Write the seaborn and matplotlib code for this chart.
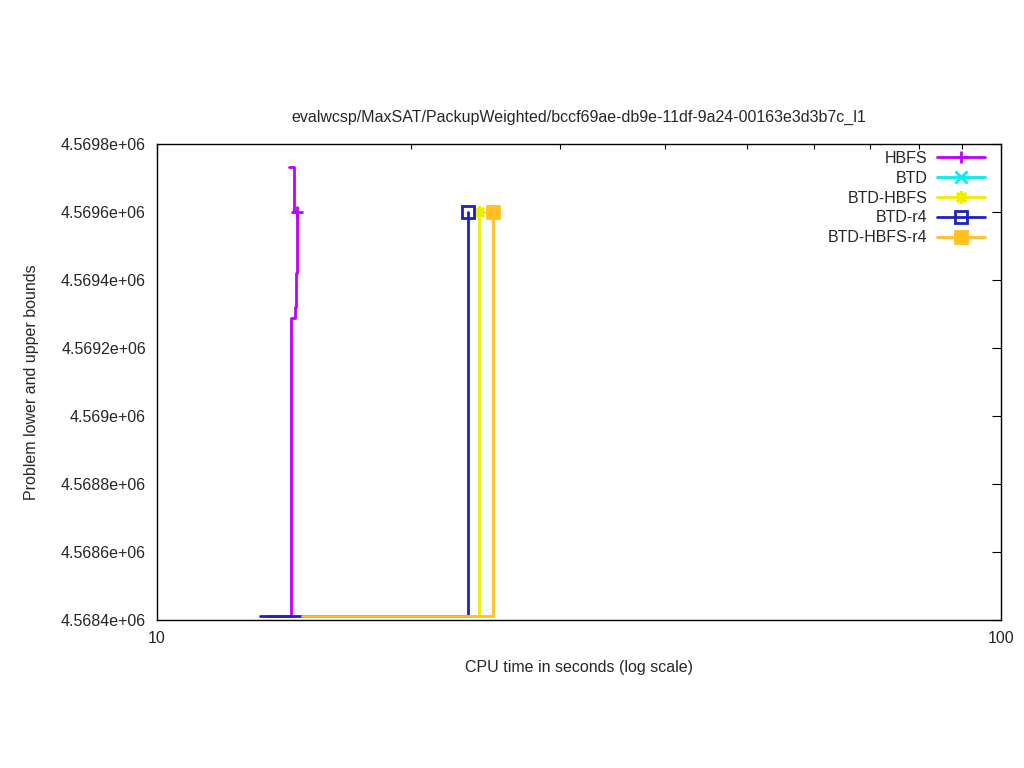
import numpy as np
import pandas as pd
import matplotlib
matplotlib.use("Agg")
import matplotlib.pyplot as plt
from matplotlib.lines import Line2D
from matplotlib.ticker import FixedLocator, FuncFormatter, NullFormatter
import seaborn as sns

# bounds per method: lower bound (lb) and upper bound (ub) as step series
methods = ["HBFS", "BTD", "BTD-HBFS", "BTD-r4", "BTD-HBFS-r4"]

hbfs_lb_t = [13.5, 14.42, 14.56, 14.60, 14.64]
hbfs_lb_v = [4568412, 4569288, 4569320, 4569420, 4569600]
hbfs_ub_t = [14.34, 14.54, 14.64]
hbfs_ub_v = [4569732, 4569600, 4569600]

btd_lb_t, btd_lb_v = [], []
btd_ub_t, btd_ub_v = [], []

btdhbfs_lb_t = [14.85, 24.10]
btdhbfs_lb_v = [4568412, 4569600]
btdhbfs_ub_t = [24.10]
btdhbfs_ub_v = [4569600]

btdr4_lb_t = [13.24, 23.38]
btdr4_lb_v = [4568412, 4569600]
btdr4_ub_t = [23.38]
btdr4_ub_v = [4569600]

btdhbfsr4_lb_t = [14.85, 25.03]
btdhbfsr4_lb_v = [4568412, 4569600]
btdhbfsr4_ub_t = [25.03]
btdhbfsr4_ub_v = [4569600]

series = {
    "HBFS": (hbfs_lb_t, hbfs_lb_v, hbfs_ub_t, hbfs_ub_v),
    "BTD": (btd_lb_t, btd_lb_v, btd_ub_t, btd_ub_v),
    "BTD-HBFS": (btdhbfs_lb_t, btdhbfs_lb_v, btdhbfs_ub_t, btdhbfs_ub_v),
    "BTD-r4": (btdr4_lb_t, btdr4_lb_v, btdr4_ub_t, btdr4_ub_v),
    "BTD-HBFS-r4": (btdhbfsr4_lb_t, btdhbfsr4_lb_v, btdhbfsr4_ub_t, btdhbfsr4_ub_v),
}

colors = {"HBFS": "#c000ff", "BTD": "#00eeee", "BTD-HBFS": "#eeee00",
          "BTD-r4": "#2020c0", "BTD-HBFS-r4": "#ffc020"}
markers = {"HBFS": "+", "BTD": "x", "BTD-HBFS": (8, 2, 0),
           "BTD-r4": "s", "BTD-HBFS-r4": "s"}
mfc = {"HBFS": None, "BTD": None, "BTD-HBFS": None,
       "BTD-r4": "none", "BTD-HBFS-r4": "#ffc020"}

sns.set_style("white")
plt.rcParams["font.family"] = ["Liberation Sans", "DejaVu Sans"]

fig = plt.figure(figsize=(10.24, 7.68), dpi=100)
ax = fig.add_axes([157 / 1024, 1 - 620 / 768, 844 / 1024, 476 / 768])

lw = 2.0
handles = []
for m in methods:
    lb_t, lb_v, ub_t, ub_v = series[m]
    c = colors[m]
    for t, v in ((lb_t, lb_v), (ub_t, ub_v)):
        if len(t) > 1:
            df = pd.DataFrame({"t": t, "v": v})
            sns.lineplot(data=df, x="t", y="v", ax=ax, color=c, linewidth=lw,
                         drawstyle="steps-post", estimator=None, sort=False)
    if len(ub_t):
        ax.plot(ub_t[-1], ub_v[-1], linestyle="none", marker=markers[m],
                markersize=9, markeredgewidth=2, color=c,
                markerfacecolor=mfc[m] if mfc[m] else c)
    handles.append(Line2D([], [], color=c, linewidth=lw, marker=markers[m],
                          markersize=9, markeredgewidth=2,
                          markerfacecolor=mfc[m] if mfc[m] else c, label=m))

ax.set_xscale("log")
ax.set_xlim(10, 100)
ax.set_ylim(4568400, 4569800)
ax.xaxis.set_major_locator(FixedLocator([10, 100]))
ax.xaxis.set_major_formatter(FuncFormatter(lambda x, p: "%g" % x))
ax.xaxis.set_minor_locator(FixedLocator(np.arange(20, 100, 10)))
ax.xaxis.set_minor_formatter(NullFormatter())
ax.yaxis.set_major_locator(FixedLocator(np.arange(4568400, 4569801, 200)))
ax.yaxis.set_major_formatter(FuncFormatter(lambda y, p: "%g" % y))

ax.tick_params(which="both", direction="in", top=True, right=True,
               labelsize=11.5, color="black", width=0.8)
ax.tick_params(which="major", length=6.5, pad=8)
ax.tick_params(axis="x", which="major", pad=8)
ax.tick_params(which="minor", length=3.5)
for s in ax.spines.values():
    s.set_color("black")
    s.set_linewidth(1.0)

ax.set_title("evalwcsp/MaxSAT/PackupWeighted/bccf69ae-db9e-11df-9a24-00163e3d3b7c_l1",
             fontsize=11.5, pad=16)
ax.set_xlabel("CPU time in seconds (log scale)", fontsize=11.5, labelpad=10)
ax.set_ylabel("Problem lower and upper bounds", fontsize=11.5, labelpad=16)

ax.legend(handles=handles, loc="upper right", frameon=False, markerfirst=False,
          bbox_to_anchor=(1 - 16 / 844, 1 - 7 / 476), borderpad=0,
          borderaxespad=0, fontsize=11.5, handlelength=3.0, handletextpad=0.6,
          labelspacing=0.3)

fig.savefig("out.png", dpi=100)
